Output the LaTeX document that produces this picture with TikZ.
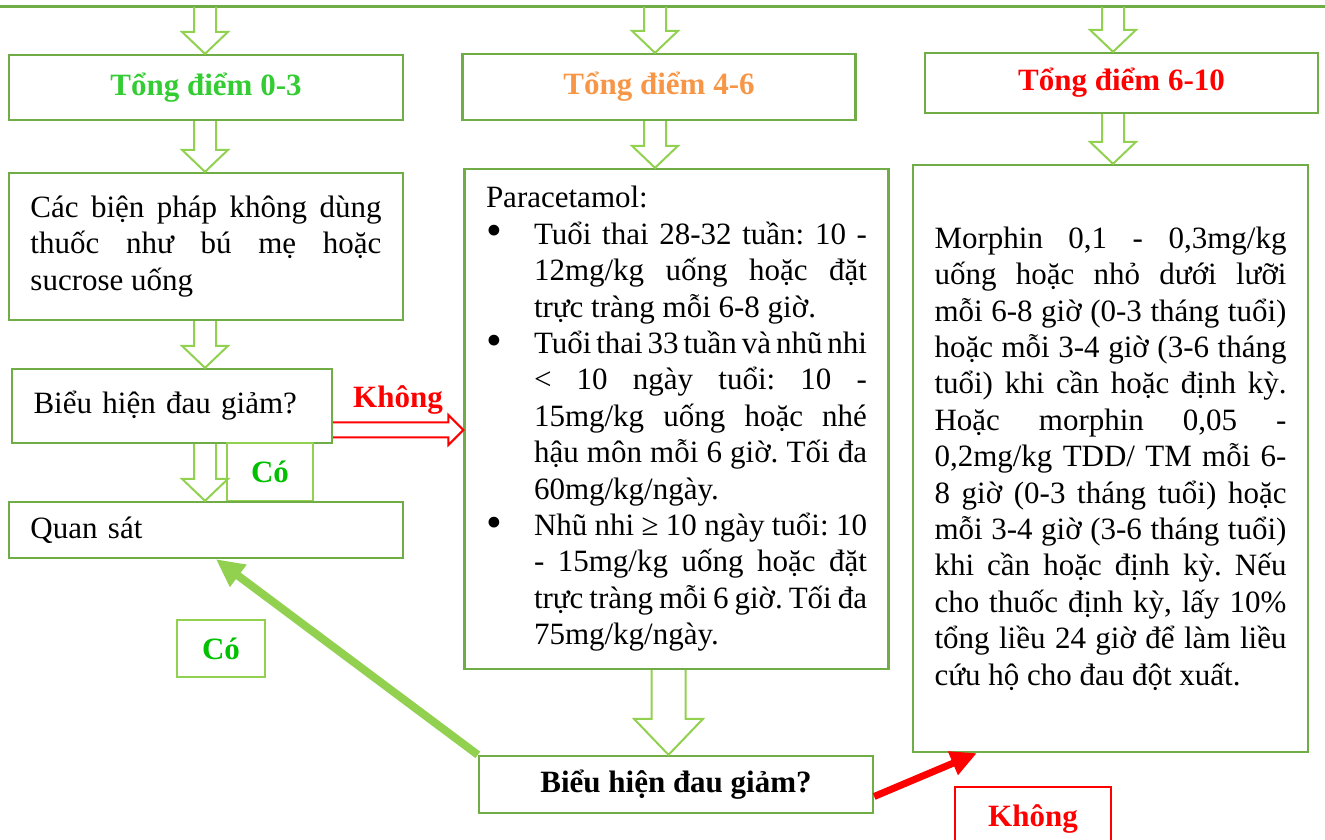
\documentclass[tikz,border=0pt]{standalone}
\usepackage{fontspec}
\setmainfont{Liberation Serif}
\usetikzlibrary{calc,arrows.meta,positioning}
\definecolor{boxgreen}{RGB}{112,173,71}
\definecolor{arrowgreen}{RGB}{146,208,80}
\definecolor{scoregreen}{RGB}{51,204,51}
\definecolor{yesgreen}{RGB}{0,192,0}
\definecolor{scoreorange}{RGB}{247,150,70}
\definecolor{nored}{RGB}{255,0,0}
\setlength{\parindent}{0pt}
\hyphenpenalty=10000
\frenchspacing
\newcommand{\bigtext}{\fontsize{31}{36.4}\selectfont\spaceskip=.25em plus .6em minus .2em\relax}
\newcommand{\pbullet}{\par\hangindent=48pt\hangafter=1\makebox[48pt][l]{\raisebox{-1.5pt}{\scalebox{1.45}{\textbullet}}}}
% hollow block arrows: [style] tail, tip, shaft half width, head half width, head length
\newcommand{\downblock}[6][]{%
  \draw[hollow,#1] let \p1=(#2), \p2=(#3) in
    (\x1-#4,\y1) -- (\x1-#4,\y2+#6) -- (\x1-#5,\y2+#6) -- (\x1,\y2)
    -- (\x1+#5,\y2+#6) -- (\x1+#4,\y2+#6) -- (\x1+#4,\y1);}
\newcommand{\rightblock}[6][]{%
  \draw[hollow,#1] let \p1=(#2), \p2=(#3) in
    (\x1,\y1+#4) -- (\x2-#6,\y1+#4) -- (\x2-#6,\y1+#5) -- (\x2,\y1)
    -- (\x2-#6,\y1-#5) -- (\x2-#6,\y1-#4) -- (\x1,\y1-#4);}
\tikzset{
  box/.style={draw=boxgreen, line width=2.3pt, inner xsep=21.5pt, inner ysep=0pt, font=\bigtext},
  scorebox/.style={box, minimum width=394pt, minimum height=65pt, font=\bigtext\bfseries},
  answer/.style={draw=arrowgreen, line width=1.6pt, text=yesgreen, inner sep=0pt, font=\bigtext\bfseries},
  hollow/.style={draw=arrowgreen, line width=2pt, line join=miter},
  thickarrow/.style={line width=8pt, -{Triangle[length=28pt,width=26pt]}}
}
\begin{document}
\begin{tikzpicture}[x=1pt,y=1pt]
  \useasboundingbox (0,0) rectangle (1325,840);
  \clip (0,0) rectangle (1325,840);
  \draw[boxgreen, line width=3pt] (0,833) -- (1325,833); % top line
  \coordinate (top0) at (205,833);
  \coordinate (top4) at (655,833);
  \coordinate (top6) at (1113,833);
  % column 0-3
  \node[scorebox, text=scoregreen] (score0) at (206,752.5) {Tổng điểm 0-3};
  \node[box, text width=351pt, minimum height=147pt, align=justify] (nodrug) at (206,593.5)
    {Các biện pháp không dùng\linebreak thuốc như bú mẹ hoặc\linebreak sucrose uống};
  \node[box, text width=277pt, minimum height=74pt, align=left] (ask1) at (172,434) {Biểu hiện đau giảm?};
  \node[answer, minimum width=86pt, minimum height=58pt] (yes1) at (270,368) {Có};
  \node[box, text width=351pt, minimum height=56pt, align=left] (observe) at (206,310) {Quan sát};
  \node[answer, minimum width=88pt, minimum height=57pt] (yes2) at (221,191.5) {Có};
  % column 4-6
  \node[scorebox, text=scoreorange, minimum width=393pt, minimum height=66pt] (score4) at (659,753) {Tổng điểm 4-6};
  \node[box, text width=381pt, minimum height=500pt, align=justify] (para) at (676.5,421)
    {Paracetamol:
    \pbullet Tuổi thai 28-32 tuần: 10 -\linebreak 12mg/kg uống hoặc đặt\linebreak trực tràng mỗi 6-8 giờ.
    \pbullet Tuổi thai 33 tuần và nhũ nhi\linebreak < 10 ngày tuổi: 10 -\linebreak 15mg/kg uống hoặc nhé\linebreak hậu môn mỗi 6 giờ. Tối đa\linebreak 60mg/kg/ngày.
    \pbullet Nhũ nhi ≥ 10 ngày tuổi: 10\linebreak - 15mg/kg uống hoặc đặt\linebreak trực tràng mỗi 6 giờ. Tối đa\linebreak 75mg/kg/ngày.\par};
  \node[box, minimum width=394pt, minimum height=57pt, font=\bigtext\bfseries] (ask2) at (676,55.5) {Biểu hiện đau giảm?};
  \node[text=nored, font=\bigtext\bfseries] (no1) at (398,440) {Không};
  % column 6-10
  \node[scorebox, text=nored, minimum width=393pt, minimum height=60pt] (score6) at (1121.5,757) {Tổng điểm 6-10};
  \node[box, text width=352pt, minimum height=587pt, align=justify] (morph) at (1110.5,381.5)
    {Morphin 0,1 - 0,3mg/kg\linebreak uống hoặc nhỏ dưới lưỡi\linebreak mỗi 6-8 giờ (0-3 tháng tuổi)\linebreak hoặc mỗi 3-4 giờ (3-6 tháng\linebreak tuổi) khi cần hoặc định kỳ.\linebreak Hoặc morphin 0,05 -\linebreak 0,2mg/kg TDD/ TM mỗi 6-\linebreak 8 giờ (0-3 tháng tuổi) hoặc\linebreak mỗi 3-4 giờ (3-6 tháng tuổi)\linebreak khi cần hoặc định kỳ. Nếu\linebreak cho thuốc định kỳ, lấy 10\%\linebreak tổng liều 24 giờ để làm liều\linebreak cứu hộ cho đau đột xuất.\par};
  \node[draw=nored, line width=1.5pt, text=nored, font=\bigtext\bfseries, minimum width=156pt, minimum height=64pt] (no2) at (1033,21) {Không};
  % block arrows
  \downblock{top0}{score0.north}{11pt}{23pt}{22pt} %top->0-3
  \downblock{score0.south -| top0}{nodrug.north}{11pt}{23pt}{22pt} %0-3->nodrug
  \downblock{nodrug.south -| top0}{ask1.north}{11pt}{23pt}{22pt} %nodrug->ask1
  \downblock{ask1.south -| top0}{observe.north}{11pt}{23pt}{22pt} %ask1->observe
  \downblock{top4}{score4.north}{11pt}{23pt}{22pt} %top->4-6
  \downblock{score4.south -| top4}{para.north}{11pt}{23pt}{22pt} %4-6->para
  \downblock{top6}{score6.north}{11pt}{23pt}{22pt} %top->6-10
  \downblock{score6.south -| top6}{morph.north}{11pt}{23pt}{22pt} %6-10->morph
  \downblock{$(para.south)+(-8,0)$}{ask2.north}{17pt}{34.5pt}{36pt} %para->ask2
  \coordinate (redtail) at ($(ask1.east)+(0,-24)$);
  \rightblock[draw=nored]{redtail}{para.west}{7.5pt}{15pt}{15pt} %ask1->para
  % thick arrows
  \draw[thickarrow, arrowgreen] (ask2.north west) -- ($(observe.south west)!0.525!(observe.south east)$);
  \draw[thickarrow, nored, line width=7pt, -{Triangle[length=26pt,width=24pt]}] ($(ask2.east)+(0,-12)$) -- ($(morph.south west)+(65,0)$);
\end{tikzpicture}
\end{document}
